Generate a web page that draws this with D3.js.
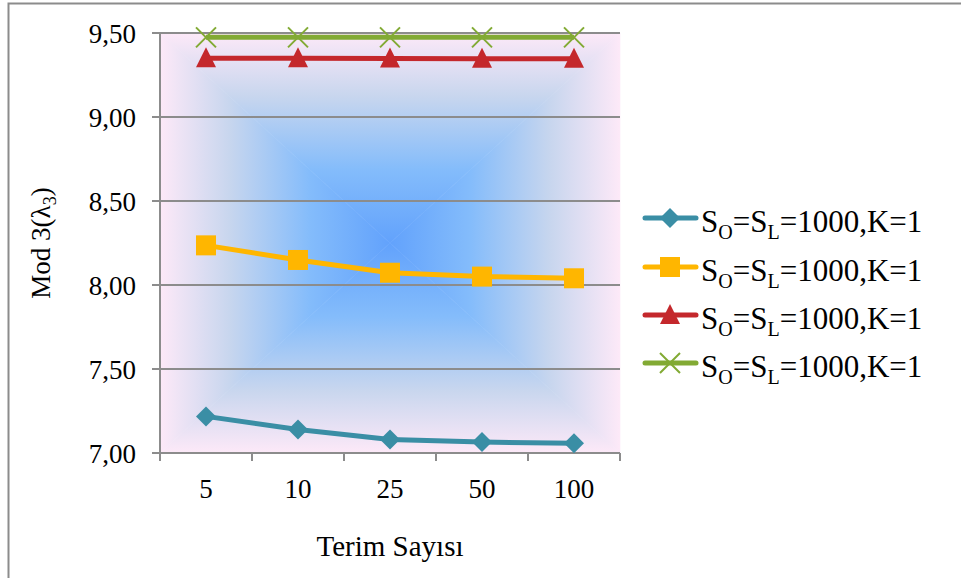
<!DOCTYPE html>
<html>
<head>
<meta charset="utf-8">
<script src="https://cdn.jsdelivr.net/npm/d3@7"></script>
<style>
  body { margin: 0; background: #fff; }
  text { font-family: "Liberation Serif", "Times New Roman", serif; fill: #000; }
</style>
</head>
<body>
<script>
// data
var categories = ["5", "10", "25", "50", "100"];
var yTicks = [7.0, 7.5, 8.0, 8.5, 9.0, 9.5];
var seriesBlue   = [7.218, 7.140, 7.081, 7.065, 7.058];
var seriesYellow = [8.236, 8.149, 8.073, 8.050, 8.040];
var seriesRed    = [9.350, 9.349, 9.348, 9.347, 9.347];
var seriesGreen  = [9.474, 9.474, 9.474, 9.474, 9.474];
var legendLabel = "S_O=S_L=1000,K=1";

var W = 961, H = 578;
var pLeft = 160, pRight = 620, pTop = 33, pBottom = 453;

var svg = d3.select("body").append("svg")
  .attr("width", W).attr("height", H);

// outer chart border
svg.append("rect")
  .attr("x", 8.5).attr("y", 3.5).attr("width", 1000).attr("height", 700)
  .style("fill", "#fff").style("stroke", "#8c8c8c").style("stroke-width", 2);

var x = d3.scaleBand().domain(categories).range([pLeft, pRight]);
var y = d3.scaleLinear().domain([7, 9.5]).range([pBottom, pTop]);

// background: rectangular gradient from center, built as four triangles
var defs = svg.append("defs");
var cx = (pLeft + pRight) / 2, cy = (pTop + pBottom) / 2;
var stops = [[0, "#fde9f8"], [0.3, "#c8d6ee"], [0.65, "#84bcfb"], [1, "#62a2fc"]];
function addGrad(id, x1, y1, x2, y2) {
  var g = defs.append("linearGradient").attr("id", id)
    .attr("gradientUnits", "userSpaceOnUse")
    .attr("x1", x1).attr("y1", y1).attr("x2", x2).attr("y2", y2);
  stops.forEach(function(s) {
    g.append("stop").attr("offset", s[0]).attr("stop-color", s[1]);
  });
}
addGrad("gTop", 0, pTop, 0, cy);
addGrad("gBot", 0, pBottom, 0, cy);
addGrad("gLeft", pLeft, 0, cx, 0);
addGrad("gRight", pRight, 0, cx, 0);

var tris = [
  ["gTop",   [[pLeft, pTop], [pRight, pTop], [cx, cy]]],
  ["gBot",   [[pLeft, pBottom], [pRight, pBottom], [cx, cy]]],
  ["gLeft",  [[pLeft, pTop], [pLeft, pBottom], [cx, cy]]],
  ["gRight", [[pRight, pTop], [pRight, pBottom], [cx, cy]]]
];
tris.forEach(function(t) {
  svg.append("polygon")
    .attr("points", t[1].map(function(p) { return p.join(","); }).join(" "))
    .style("fill", "url(#" + t[0] + ")")
    .style("stroke", "url(#" + t[0] + ")").style("stroke-width", 0.6);
});

// gridlines
svg.append("g").selectAll("line").data(yTicks).enter().append("line")
  .attr("x1", pLeft - 8).attr("x2", pRight)
  .attr("y1", function(d) { return y(d); }).attr("y2", function(d) { return y(d); })
  .style("stroke", "#8c8c8c").style("stroke-width", 2);

// y axis
svg.append("line").attr("x1", pLeft).attr("x2", pLeft).attr("y1", pTop).attr("y2", pBottom)
  .style("stroke", "#8c8c8c").style("stroke-width", 2);

svg.append("g").selectAll("text").data(yTicks).enter().append("text")
  .attr("x", 136).attr("y", function(d) { return y(d) + 10; })
  .attr("text-anchor", "end").style("font-size", "27px")
  .text(function(d) { return d3.format(".2f")(d).replace(".", ","); });

// x axis
svg.append("line").attr("x1", pLeft).attr("x2", pRight).attr("y1", pBottom).attr("y2", pBottom)
  .style("stroke", "#8c8c8c").style("stroke-width", 2);
var xEdges = categories.map(function(c) { return x(c); }).concat([pRight]);
svg.append("g").selectAll("line").data(xEdges).enter().append("line")
  .attr("x1", function(d) { return d; }).attr("x2", function(d) { return d; })
  .attr("y1", pBottom).attr("y2", pBottom + 8)
  .style("stroke", "#8c8c8c").style("stroke-width", 2);

svg.append("g").selectAll("text").data(categories).enter().append("text")
  .attr("x", function(d) { return x(d) + x.bandwidth() / 2; })
  .attr("y", 498).attr("text-anchor", "middle").style("font-size", "27px")
  .text(function(d) { return d; });

svg.append("text").attr("x", cx).attr("y", 556).attr("text-anchor", "middle")
  .style("font-size", "29px").text("Terim Sayısı");

var yt = svg.append("text")
  .attr("transform", "translate(50," + cy + ") rotate(-90)")
  .attr("text-anchor", "middle").style("font-size", "27px");
yt.append("tspan").text("Mod 3(λ");
yt.append("tspan").attr("dy", 6).style("font-size", "18px").text("3");
yt.append("tspan").attr("dy", -6).text(")");

// series
var series = [
  { values: seriesBlue,   color: "#3a8ea5", shape: "diamond" },
  { values: seriesYellow, color: "#ffb600", shape: "square" },
  { values: seriesRed,    color: "#c4282c", shape: "triangle" },
  { values: seriesGreen,  color: "#82aa34", shape: "cross" }
];

function drawMarker(g, shape, color, px, py) {
  if (shape === "diamond") {
    g.append("path").attr("d", "M" + px + "," + (py - 10) + "L" + (px + 10) + "," + py +
      "L" + px + "," + (py + 10) + "L" + (px - 10) + "," + py + "Z").style("fill", color);
  } else if (shape === "square") {
    g.append("rect").attr("x", px - 10).attr("y", py - 10).attr("width", 20).attr("height", 20)
      .style("fill", color);
  } else if (shape === "triangle") {
    g.append("path").attr("d", "M" + px + "," + (py - 11) + "L" + (px + 10) + "," + (py + 9) +
      "L" + (px - 10) + "," + (py + 9) + "Z").style("fill", color);
  } else {
    g.append("path").attr("d", "M" + (px - 10) + "," + (py - 10) + "L" + (px + 10) + "," + (py + 10) +
      "M" + (px + 10) + "," + (py - 10) + "L" + (px - 10) + "," + (py + 10))
      .style("stroke", color).style("stroke-width", 2);
  }
}

var line = d3.line()
  .x(function(d, i) { return x(categories[i]) + x.bandwidth() / 2; })
  .y(function(d) { return y(d); });

series.forEach(function(s) {
  var g = svg.append("g");
  g.append("path").attr("d", line(s.values))
    .style("fill", "none").style("stroke", s.color).style("stroke-width", 5)
    .style("stroke-linejoin", "round");
  s.values.forEach(function(v, i) {
    drawMarker(g, s.shape, s.color, x(categories[i]) + x.bandwidth() / 2, y(v));
  });
});

// legend
var legY = [218, 267, 315, 363];
series.forEach(function(s, i) {
  var g = svg.append("g");
  var ly = legY[i];
  g.append("line").attr("x1", 645).attr("x2", 696).attr("y1", ly).attr("y2", ly)
    .style("stroke", s.color).style("stroke-width", 5).style("stroke-linecap", "round");
  drawMarker(g, s.shape, s.color, 670, ly);
  var t = g.append("text").attr("x", 701).attr("y", ly + 14).style("font-size", "31px");
  var parts = legendLabel.split(/S_([A-Z])/);
  // parts: ["", "O", "=", "L", "=1000,K=1"]
  t.append("tspan").text("S");
  t.append("tspan").attr("dy", 7).style("font-size", "20px").text(parts[1]);
  t.append("tspan").attr("dy", -7).text(parts[2] + "S");
  t.append("tspan").attr("dy", 7).style("font-size", "20px").text(parts[3]);
  t.append("tspan").attr("dy", -7).text(parts[4]);
});
</script>
</body>
</html>
